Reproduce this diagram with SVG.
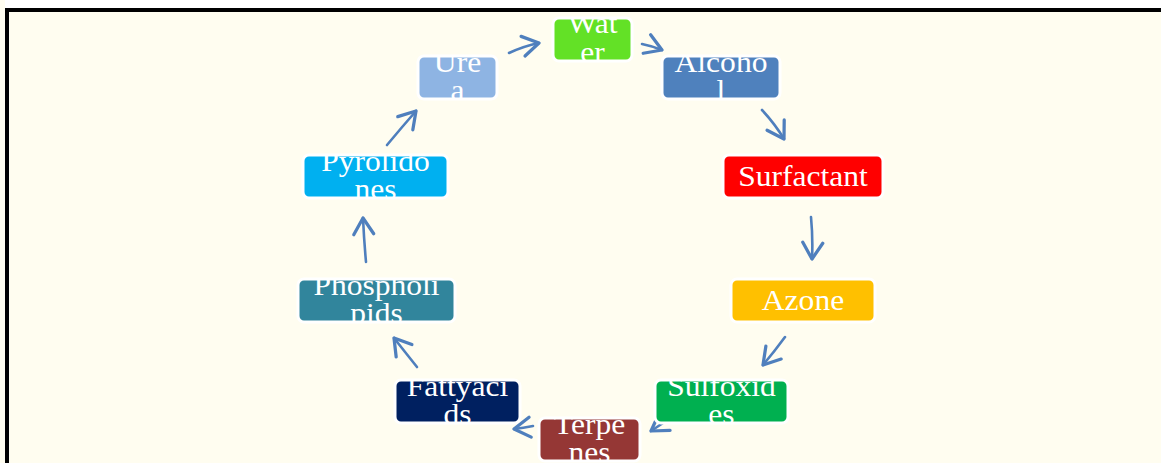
<svg xmlns="http://www.w3.org/2000/svg" width="1161" height="463" viewBox="0 0 1161 463">
<defs>
<style>
.box{stroke:#ffffff;stroke-width:3}
.t{font-family:"Liberation Serif","Times New Roman",serif;font-size:29.5px;fill:#ffffff;text-anchor:middle}
.c{fill:none;stroke:#4f7fbd;stroke-width:2.6;stroke-linecap:round;stroke-linejoin:round}
</style>
<marker id="ah" markerUnits="userSpaceOnUse" markerWidth="30" markerHeight="30" refX="0" refY="0" viewBox="-16 -12 20 24" orient="auto">
<path d="M -13 -8 L 0 0 L -13 8" fill="none" stroke="#4f7fbd" stroke-width="2.6" stroke-linecap="round" stroke-linejoin="round"/>
</marker>
<clipPath id="k1"><rect x="553" y="18" width="79" height="43" rx="6"/></clipPath>
<clipPath id="k2"><rect x="662" y="56" width="118" height="43" rx="6"/></clipPath>
<clipPath id="k3"><rect x="418" y="56" width="79" height="43" rx="6"/></clipPath>
<clipPath id="k4"><rect x="723" y="155" width="160" height="43" rx="6"/></clipPath>
<clipPath id="k5"><rect x="731" y="279" width="144" height="43" rx="6"/></clipPath>
<clipPath id="k6"><rect x="655" y="380" width="133" height="43" rx="6"/></clipPath>
<clipPath id="k7"><rect x="539" y="418" width="101" height="43" rx="6"/></clipPath>
<clipPath id="k8"><rect x="395" y="380" width="125" height="43" rx="6"/></clipPath>
<clipPath id="k9"><rect x="298" y="279" width="157" height="43" rx="6"/></clipPath>
<clipPath id="k10"><rect x="303" y="155" width="145" height="43" rx="6"/></clipPath>
</defs>
<rect x="0" y="0" width="1161" height="463" fill="#fffdf0"/>
<rect x="5" y="0" width="1156" height="8" fill="#ffffff"/>
<rect x="5" y="8" width="1156" height="4" fill="#000000"/>
<rect x="5" y="8" width="4" height="455" fill="#000000"/>

<g id="connectors">
<path class="c" d="M 509 53 Q 524 46 539 43" marker-end="url(#ah)"/>
<path class="c" d="M 642 44 Q 652 46 662 50" marker-end="url(#ah)"/>
<path class="c" d="M 762 110 Q 775 124 784 139" marker-end="url(#ah)"/>
<path class="c" d="M 811 217 Q 813 238 812 259" marker-end="url(#ah)"/>
<path class="c" d="M 785 337 Q 774 352 763 365" marker-end="url(#ah)"/>
<path class="c" d="M 669 419 Q 660 425 651 431" marker-end="url(#ah)"/>
<path class="c" d="M 533 426 Q 523 428 514 429" marker-end="url(#ah)"/>
<path class="c" d="M 417 367 Q 405 352 394 338" marker-end="url(#ah)"/>
<path class="c" d="M 366 262 Q 364 240 363 218" marker-end="url(#ah)"/>
<path class="c" d="M 387 145 Q 402 127 416 111" marker-end="url(#ah)"/>
</g>

<g id="water">
<rect class="box" x="553" y="18" width="79" height="43" rx="6" fill="#63e126"/>
<g clip-path="url(#k1)"><text class="t" transform="translate(592.5 0) scale(1.07 1)"><tspan x="0" y="33">Wat</tspan><tspan x="0" y="62">er</tspan></text></g>
</g>
<g id="alcohol">
<rect class="box" x="662" y="56" width="118" height="43" rx="6" fill="#4f81bd"/>
<g clip-path="url(#k2)"><text class="t" transform="translate(721 0) scale(1.07 1)"><tspan x="0" y="72">Alcoho</tspan><tspan x="0" y="100.5">l</tspan></text></g>
</g>
<g id="urea">
<rect class="box" x="418" y="56" width="79" height="43" rx="6" fill="#8eb4e3"/>
<g clip-path="url(#k3)"><text class="t" transform="translate(457.5 0) scale(1.07 1)"><tspan x="0" y="72">Ure</tspan><tspan x="0" y="100.5">a</tspan></text></g>
</g>
<g id="surfactant">
<rect class="box" x="723" y="155" width="160" height="43" rx="6" fill="#ff0000"/>
<g clip-path="url(#k4)"><text class="t" transform="translate(803 0) scale(1.07 1)"><tspan x="0" y="186">Surfactant</tspan></text></g>
</g>
<g id="azone">
<rect class="box" x="731" y="279" width="144" height="43" rx="6" fill="#ffc000"/>
<g clip-path="url(#k5)"><text class="t" transform="translate(803 0) scale(1.07 1)"><tspan x="0" y="310">Azone</tspan></text></g>
</g>
<g id="sulfoxides">
<rect class="box" x="655" y="380" width="133" height="43" rx="6" fill="#00b050"/>
<g clip-path="url(#k6)"><text class="t" transform="translate(721.5 0) scale(1.07 1)"><tspan x="0" y="396">Sulfoxid</tspan><tspan x="0" y="424.5">es</tspan></text></g>
</g>
<g id="terpenes">
<rect class="box" x="539" y="418" width="101" height="43" rx="6" fill="#953735"/>
<g clip-path="url(#k7)"><text class="t" transform="translate(589.5 0) scale(1.07 1)"><tspan x="0" y="434">Terpe</tspan><tspan x="0" y="462.5">nes</tspan></text></g>
</g>
<g id="fattyacids">
<rect class="box" x="395" y="380" width="125" height="43" rx="6" fill="#002060"/>
<g clip-path="url(#k8)"><text class="t" transform="translate(457.5 0) scale(1.07 1)"><tspan x="0" y="396">Fattyaci</tspan><tspan x="0" y="424.5">ds</tspan></text></g>
</g>
<g id="phospholipids">
<rect class="box" x="298" y="279" width="157" height="43" rx="6" fill="#31859c"/>
<g clip-path="url(#k9)"><text class="t" transform="translate(376.5 0) scale(1.07 1)"><tspan x="0" y="295">Phospholi</tspan><tspan x="0" y="323.5">pids</tspan></text></g>
</g>
<g id="pyrolidones">
<rect class="box" x="303" y="155" width="145" height="43" rx="6" fill="#00b0f0"/>
<g clip-path="url(#k10)"><text class="t" transform="translate(375.5 0) scale(1.07 1)"><tspan x="0" y="171">Pyrolido</tspan><tspan x="0" y="199.5">nes</tspan></text></g>
</g>
</svg>
